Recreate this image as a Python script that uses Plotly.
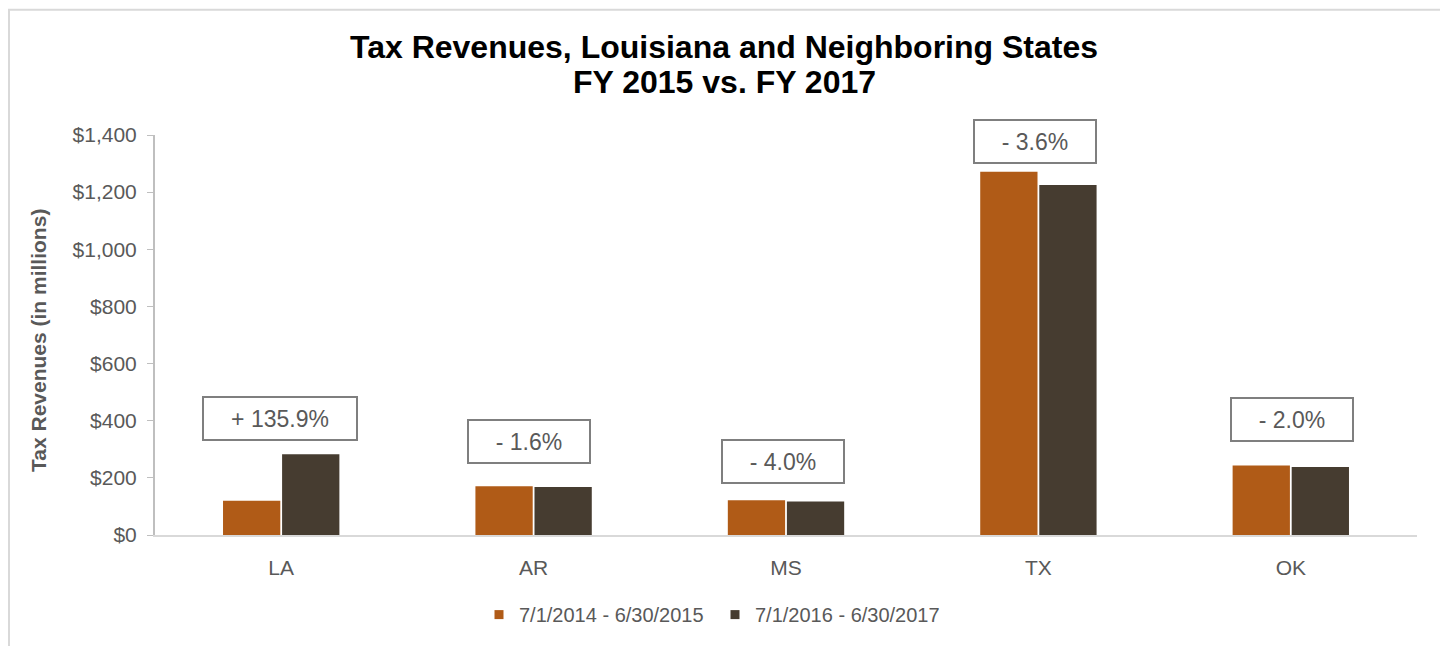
import plotly.graph_objects as go

states = ["LA", "AR", "MS", "TX", "OK"]
fy2015 = [120, 171, 122, 1271, 243]
fy2017 = [283, 168.3, 117, 1225, 238]
changes = ["+ 135.9%", "- 1.6%", "- 4.0%", "- 3.6%", "- 2.0%"]
series_names = ["7/1/2014 - 6/30/2015", "7/1/2016 - 6/30/2017"]
tick_vals = [0, 200, 400, 600, 800, 1000, 1200, 1400]
tick_text = ["$0", "$200", "$400", "$600", "$800", "$1,000", "$1,200", "$1,400"]
title_lines = ["Tax Revenues, Louisiana and Neighboring States", "FY 2015 vs. FY 2017"]
y_title = "Tax Revenues (in millions)"

ORANGE = "#B05B17"
DARK = "#463C30"
GRAY_TXT = "#595959"

# page body adds an 8px offset; figure sized so it fills the window
OFF = 8
FIG_W, FIG_H = 1448 - OFF, 646 - OFF
# plot area in screenshot pixels
L, T, W, H = 155, 135, 1262, 402

def px_x(p):
    return (p - L) / W

def px_y(p):
    return (T + H - p) / H

fig = go.Figure()
fig.add_trace(go.Bar(x=states, y=fy2015, name=series_names[0], marker_color=ORANGE,
                     marker_line_width=0, showlegend=False))
fig.add_trace(go.Bar(x=states, y=fy2017, name=series_names[1], marker_color=DARK,
                     marker_line_width=0, showlegend=False))
for nm, col in zip(series_names, [ORANGE, DARK]):
    fig.add_trace(go.Scatter(x=[None], y=[None], mode="markers", name=nm,
                             marker=dict(symbol="square", size=9, color=col)))

# percentage-change label boxes
label_y = [409, 327, 258, 1376, 404]
label_w = [150, 118, 118, 118, 118]
label_dx = [-1, -5, -3, -3, 1]
for s, txt, ly, w, dx in zip(states, changes, label_y, label_w, label_dx):
    fig.add_annotation(x=s, y=ly, xref="x", yref="y", text=txt, showarrow=False,
                       xshift=dx,
                       font=dict(family="Arial", size=23, color=GRAY_TXT),
                       bordercolor="#7F7F7F", borderwidth=2, bgcolor="white",
                       width=w, height=39, borderpad=1)

# title as two tightly spaced lines
for txt, cy in zip(title_lines, [47, 82]):
    fig.add_annotation(x=px_x(724), y=px_y(cy), xref="paper", yref="paper",
                       xanchor="center", yanchor="middle", showarrow=False,
                       text=f"<b>{txt}</b>",
                       font=dict(family="Arial", size=32, color="black"))

# y-axis title
fig.add_annotation(x=px_x(39), y=px_y(342), xref="paper", yref="paper",
                   xanchor="center", yanchor="middle", showarrow=False, textangle=-90,
                   text=f"<b>{y_title}</b>", font=dict(family="Arial", size=21, color=GRAY_TXT))

# outer chart frame
fig.add_shape(type="rect", xref="paper", yref="paper",
              x0=px_x(OFF + 1), x1=px_x(1444), y0=px_y(700), y1=px_y(OFF + 1),
              line=dict(color="#D9D9D9", width=2), fillcolor="rgba(0,0,0,0)", layer="below")

fig.update_layout(
    width=FIG_W, height=FIG_H,
    margin=dict(l=L - OFF, r=FIG_W - (L - OFF) - W, t=T - OFF, b=FIG_H - (T - OFF) - H),
    paper_bgcolor="white", plot_bgcolor="white",
    barmode="group", bargap=0.532, bargroupgap=0.03,
    font=dict(family="Arial", color=GRAY_TXT),
    legend=dict(orientation="h", x=px_x(715), xanchor="center", y=px_y(617), yanchor="middle",
                font=dict(size=20, color=GRAY_TXT), itemsizing="trace",
                entrywidth=191, entrywidthmode="pixels",
                bgcolor="rgba(0,0,0,0)"),
    showlegend=True,
)
fig.update_yaxes(range=[0, 1400], tickvals=tick_vals, ticktext=tick_text,
                 showgrid=False, zeroline=False, showline=True, linecolor="#BFBFBF",
                 linewidth=2, ticks="outside", ticklen=6, tickcolor="#BFBFBF",
                 ticklabelstandoff=6,
                 tickfont=dict(size=21, color=GRAY_TXT))
fig.update_xaxes(showgrid=False, showline=True, linecolor="#D9D9D9", linewidth=2,
                 ticks="", ticklabelstandoff=13, tickfont=dict(size=21, color=GRAY_TXT))

fig.write_html("out.html")
